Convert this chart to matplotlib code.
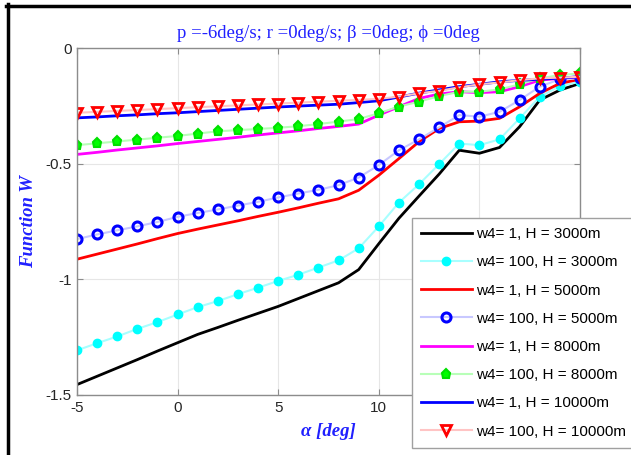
import matplotlib.pyplot as plt
from matplotlib.lines import Line2D
import numpy as np

# ----------------------- Data --------------------------
alpha = np.arange(-5, 21)

w1_h3000 = [-1.455, -1.419, -1.383, -1.347, -1.310, -1.274, -1.238, -1.208, -1.177, -1.147,
            -1.117, -1.083, -1.049, -1.015, -0.958, -0.846, -0.736, -0.640, -0.545, -0.442,
            -0.455, -0.430, -0.340, -0.225, -0.182, -0.153]
w100_h3000 = [-1.307, -1.276, -1.247, -1.214, -1.185, -1.152, -1.120, -1.094, -1.064, -1.036,
              -1.007, -0.980, -0.949, -0.918, -0.866, -0.771, -0.668, -0.589, -0.502, -0.413,
              -0.420, -0.395, -0.304, -0.211, -0.165, -0.146]
w1_h5000 = [-0.913, -0.891, -0.869, -0.847, -0.824, -0.802, -0.783, -0.765, -0.747, -0.728,
            -0.710, -0.691, -0.671, -0.652, -0.615, -0.550, -0.478, -0.405, -0.348, -0.319,
            -0.316, -0.304, -0.254, -0.196, -0.153, -0.135]
w100_h5000 = [-0.826, -0.806, -0.788, -0.771, -0.752, -0.730, -0.713, -0.698, -0.681, -0.665,
              -0.646, -0.629, -0.613, -0.593, -0.560, -0.506, -0.442, -0.395, -0.343, -0.290,
              -0.297, -0.276, -0.225, -0.167, -0.135, -0.131]
w1_h8000 = [-0.460, -0.451, -0.441, -0.432, -0.423, -0.413, -0.404, -0.395, -0.386, -0.376,
            -0.367, -0.358, -0.348, -0.339, -0.329, -0.290, -0.254, -0.218, -0.199, -0.189,
            -0.193, -0.189, -0.167, -0.139, -0.131, -0.124]
w100_h8000 = [-0.420, -0.412, -0.404, -0.396, -0.388, -0.380, -0.370, -0.360, -0.355, -0.350,
              -0.345, -0.338, -0.329, -0.318, -0.307, -0.282, -0.253, -0.232, -0.208, -0.189,
              -0.189, -0.179, -0.157, -0.131, -0.117, -0.110]
w1_h10000 = [-0.302, -0.298, -0.293, -0.289, -0.284, -0.280, -0.275, -0.270, -0.265, -0.260,
             -0.255, -0.251, -0.247, -0.243, -0.236, -0.228, -0.212, -0.195, -0.181, -0.167,
             -0.157, -0.146, -0.140, -0.135, -0.130, -0.124]
w100_h10000 = [-0.280, -0.276, -0.272, -0.268, -0.264, -0.260, -0.256, -0.252, -0.248, -0.244,
               -0.240, -0.236, -0.232, -0.228, -0.224, -0.220, -0.210, -0.196, -0.185, -0.170,
               -0.157, -0.149, -0.139, -0.131, -0.128, -0.124]

labels = ['w4= 1, H = 3000m', 'w4= 100, H = 3000m',
          'w4= 1, H = 5000m', 'w4= 100, H = 5000m',
          'w4= 1, H = 8000m', 'w4= 100, H = 8000m',
          'w4= 1, H = 10000m', 'w4= 100, H = 10000m']

xticks = [-5, 0, 5, 10, 15, 20]
# 15 and 20 sit under the legend in the original, so they show no label
xtick_labels = ['-5', '0', '5', '10', '', '']
yticks = [-1.5, -1, -0.5, 0]
ytick_labels = ['-1.5', '-1', '-0.5', '0']

# ----------------------- Set Up --------------------------
plt.rcParams['font.family'] = 'Liberation Sans'
fig = plt.figure(figsize=(6.31, 4.55), dpi=100)
ax = fig.add_axes([77 / 631, 60 / 455, 503 / 631, 347 / 455])

lw = 2.0
ms = 6.0
ax.plot(alpha, w1_h3000, color='black', lw=lw, label=labels[0])
ax.plot(alpha, w100_h3000, color='#a8ffff', lw=1.5, marker='o', ms=ms,
        mfc='cyan', mec='cyan', label=labels[1])
ax.plot(alpha, w1_h5000, color='red', lw=lw, label=labels[2])
ax.plot(alpha, w100_h5000, color='#c8c8ff', lw=1.5, marker='o', ms=ms + 0.5,
        mfc='none', mec='blue', mew=2.2, label=labels[3])
ax.plot(alpha, w1_h8000, color='magenta', lw=lw, label=labels[4])
ax.plot(alpha, w100_h8000, color='#b8ffb8', lw=1.5, marker='p', ms=ms + 0.5,
        mfc='#00ff00', mec='#00e000', mew=1.5, label=labels[5])
ax.plot(alpha, w1_h10000, color='blue', lw=lw, label=labels[6])
ax.plot(alpha, w100_h10000, color='#ffc4c4', lw=1.5, marker='v', ms=ms + 0.5,
        mfc='none', mec='red', mew=2.0, label=labels[7])

# ----------------------- Axes --------------------------
ax.set_xlim(-5, 20)
ax.set_ylim(-1.5, 0)
ax.set_xticks(xticks)
ax.set_xticklabels(xtick_labels)
ax.set_yticks(yticks)
ax.set_yticklabels(ytick_labels)
ax.grid(True, color='#e6e6e6', lw=0.8)
ax.set_axisbelow(True)
ax.tick_params(direction='in', length=4, top=True, right=True,
               labelsize=11, colors='#8c8c8c', labelcolor='#262626', pad=4)
for s in ax.spines.values():
    s.set_color('#8c8c8c')
    s.set_linewidth(1.0)

serif = 'Liberation Serif'
ax.set_title('p =-6deg/s; r =0deg/s; \u03b2 =0deg; \u03d5 =0deg', color='#2020ff',
             fontsize=13.5, family=serif, pad=7)
ax.set_xlabel('\u03b1 [deg]', color='#2020ff', fontsize=13.5, family=serif,
              style='italic', weight='bold', labelpad=6)
ax.set_ylabel('Function W', color='#2020ff', fontsize=13.5, family=serif,
              style='italic', weight='bold')
ax.yaxis.set_label_coords(-0.079, 0.5)

leg = ax.legend(loc='upper left', bbox_to_anchor=(412 / 631, 1 - 218 / 455),
                bbox_transform=fig.transFigure, borderaxespad=0, fontsize=11,
                fancybox=False, framealpha=1, edgecolor='#a0a0a0', handlelength=3.3,
                labelspacing=0.93, borderpad=0.6, handletextpad=0.3)
leg.get_frame().set_linewidth(1.0)

# black frame on left and top of the picture
fig.add_artist(Line2D([7.5 / 631, 7.5 / 631], [0, 1 - 4 / 455], color='black', lw=2.5,
                      transform=fig.transFigure))
fig.add_artist(Line2D([6 / 631, 1], [1 - 5.5 / 455, 1 - 5.5 / 455], color='black', lw=2.5,
                      transform=fig.transFigure))

fig.savefig('out.png', dpi=100)
